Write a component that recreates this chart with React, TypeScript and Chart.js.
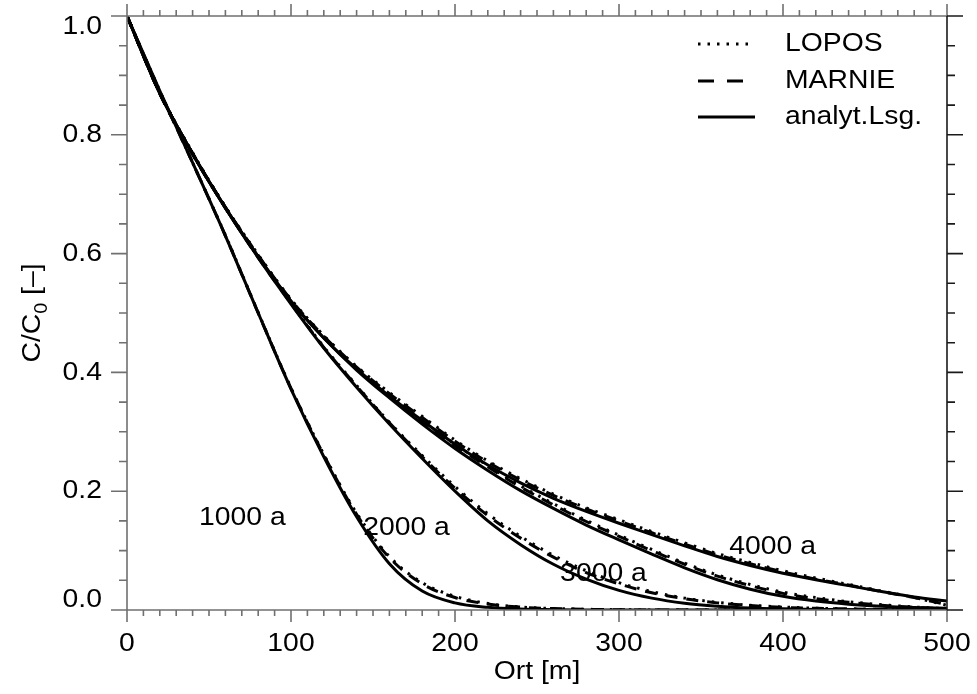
import React, { useEffect, useRef } from 'react';
import { Chart, registerables } from 'chart.js';

Chart.register(...registerables);

// ---------- data ----------
const xValues = [0, 20, 40, 60, 80, 100, 120, 140, 160, 180, 200, 220, 240, 260, 280, 300, 320, 340, 360, 380, 400, 420, 440, 460, 480, 500];

const analyt1000 = [1.000, 0.874, 0.753, 0.630, 0.500, 0.372, 0.258, 0.157, 0.078, 0.032, 0.012, 0.0045, 0.0015, 0.0005, 0, 0, 0, 0, 0, 0, 0, 0, 0, 0, 0, 0];
const lopos1000 = [1.000, 0.874, 0.753, 0.631, 0.501, 0.374, 0.262, 0.163, 0.090, 0.046, 0.023, 0.011, 0.005, 0.0025, 0.0012, 0.0005, 0, 0, 0, 0, 0, 0, 0, 0, 0, 0];
const marnie1000 = [1.000, 0.873, 0.753, 0.630, 0.500, 0.373, 0.261, 0.161, 0.088, 0.044, 0.021, 0.010, 0.0048, 0.0024, 0.0011, 0.0005, 0, 0, 0, 0, 0, 0, 0, 0, 0, 0];

const analyt2000 = [1.000, 0.870, 0.768, 0.677, 0.593, 0.515, 0.441, 0.375, 0.313, 0.255, 0.200, 0.150, 0.110, 0.077, 0.052, 0.033, 0.020, 0.0115, 0.0065, 0.0035, 0.002, 0.001, 0.0005, 0, 0, 0];
const lopos2000 = [1.000, 0.870, 0.768, 0.678, 0.594, 0.517, 0.443, 0.378, 0.316, 0.260, 0.208, 0.162, 0.124, 0.092, 0.066, 0.046, 0.031, 0.020, 0.013, 0.008, 0.005, 0.003, 0.002, 0.001, 0.0005, 0];
const marnie2000 = [1.000, 0.869, 0.767, 0.677, 0.593, 0.516, 0.442, 0.377, 0.315, 0.258, 0.205, 0.159, 0.121, 0.089, 0.063, 0.044, 0.029, 0.019, 0.012, 0.0075, 0.0045, 0.0028, 0.0018, 0.001, 0.0005, 0];

const analyt3000 = [1.000, 0.870, 0.768, 0.677, 0.595, 0.520, 0.458, 0.404, 0.357, 0.313, 0.272, 0.235, 0.201, 0.171, 0.143, 0.118, 0.094, 0.071, 0.051, 0.035, 0.023, 0.015, 0.0098, 0.0065, 0.0043, 0.003];
const lopos3000 = [1.000, 0.871, 0.769, 0.678, 0.597, 0.522, 0.461, 0.408, 0.362, 0.319, 0.279, 0.243, 0.209, 0.179, 0.151, 0.126, 0.102, 0.079, 0.059, 0.043, 0.030, 0.021, 0.014, 0.009, 0.005, 0.002];
const marnie3000 = [1.000, 0.870, 0.768, 0.678, 0.596, 0.521, 0.460, 0.406, 0.360, 0.317, 0.277, 0.241, 0.207, 0.177, 0.149, 0.124, 0.100, 0.077, 0.057, 0.041, 0.028, 0.019, 0.013, 0.008, 0.0045, 0.002];

const analyt4000 = [1.000, 0.870, 0.768, 0.677, 0.595, 0.520, 0.458, 0.406, 0.360, 0.319, 0.279, 0.244, 0.214, 0.188, 0.166, 0.146, 0.127, 0.108, 0.090, 0.075, 0.062, 0.051, 0.041, 0.031, 0.022, 0.015];
const lopos4000 = [1.000, 0.871, 0.770, 0.679, 0.598, 0.523, 0.462, 0.410, 0.366, 0.326, 0.286, 0.251, 0.221, 0.195, 0.172, 0.152, 0.132, 0.113, 0.095, 0.080, 0.066, 0.054, 0.043, 0.032, 0.021, 0.008];
const marnie4000 = [1.000, 0.870, 0.769, 0.678, 0.597, 0.522, 0.461, 0.409, 0.364, 0.324, 0.284, 0.249, 0.219, 0.193, 0.170, 0.150, 0.130, 0.111, 0.093, 0.078, 0.064, 0.052, 0.042, 0.031, 0.021, 0.009];

const xTicks = [0, 100, 200, 300, 400, 500];
const xTickLabels = ['0', '100', '200', '300', '400', '500'];
const yTicks = [0, 0.2, 0.4, 0.6, 0.8, 1.0];
const yTickLabels = ['0.0', '0.2', '0.4', '0.6', '0.8', '1.0'];
const xMinorStep = 10;
const yMinorStep = 0.05;

const timeLabels = ['1000 a', '2000 a', '3000 a', '4000 a'];
const timeLabelX = [43.9, 144, 264.1, 367.2];
const timeLabelY = [0.156, 0.138, 0.0614, 0.106];

const legendLabels = ['LOPOS', 'MARNIE', 'analyt.Lsg.'];
const xTitle = 'Ort [m]';

// ---------- helpers ----------
const FONT = '"Liberation Sans", Arial, Helvetica, sans-serif';
const SX = 1.09;
const LW = 3;

function text(ctx: CanvasRenderingContext2D, s: string, x: number, y: number, align: CanvasTextAlign, size = 26) {
  ctx.save();
  ctx.font = `${size}px ${FONT}`;
  ctx.fillStyle = '#000';
  ctx.textBaseline = 'middle';
  ctx.textAlign = align;
  ctx.translate(x, y);
  ctx.scale(SX, 1);
  ctx.fillText(s, 0, 0);
  ctx.restore();
}

const toPts = (ys: number[]) => ys.map((y, i) => ({ x: xValues[i], y }));

const solid = (label: string, ys: number[]) => ({
  label, data: toPts(ys), borderColor: '#000', borderWidth: LW, pointRadius: 0,
  cubicInterpolationMode: 'monotone' as const, fill: false,
});
const dotted = (label: string, ys: number[]) => ({
  label, data: toPts(ys), borderColor: '#000', borderWidth: LW, borderDash: [2.5, 7], pointRadius: 0,
  cubicInterpolationMode: 'monotone' as const, fill: false,
});
const dashed = (label: string, ys: number[]) => ({
  label, data: toPts(ys), borderColor: '#000', borderWidth: LW, borderDash: [12, 9], pointRadius: 0,
  cubicInterpolationMode: 'monotone' as const, fill: false,
});

const framePlugin = {
  id: 'frame',
  afterDraw(chart: any) {
    const ctx: CanvasRenderingContext2D = chart.ctx;
    const xs = chart.scales.x;
    const ys = chart.scales.y;
    const { left, right, top, bottom } = chart.chartArea;
    ctx.save();
    ctx.lineWidth = 1.6;
    // frame
    ctx.strokeStyle = '#707070';
    ctx.beginPath();
    ctx.moveTo(left, top); ctx.lineTo(left, bottom); ctx.lineTo(right, bottom);
    ctx.moveTo(left, top); ctx.lineTo(right, top);
    ctx.stroke();
    ctx.strokeStyle = '#1a1a1a';
    ctx.beginPath();
    ctx.moveTo(right, top); ctx.lineTo(right, bottom);
    ctx.stroke();

    // x ticks
    ctx.strokeStyle = '#707070';
    ctx.beginPath();
    for (let v = 0; v <= 500 + 1e-6; v += xMinorStep) {
      const px = xs.getPixelForValue(v);
      const major = Math.abs(v % 100) < 1e-6;
      const len = major ? 12 : 6;
      ctx.moveTo(px, bottom); ctx.lineTo(px, bottom + len);
      ctx.moveTo(px, top); ctx.lineTo(px, top - len);
    }
    ctx.stroke();
    // y ticks
    ctx.beginPath();
    for (let i = 0; i <= Math.round(1 / yMinorStep); i++) {
      const v = i * yMinorStep;
      const py = ys.getPixelForValue(v);
      const major = i % 4 === 0;
      const len = major ? 16 : 8;
      ctx.moveTo(left, py); ctx.lineTo(left - len, py);
    }
    ctx.stroke();
    ctx.strokeStyle = '#1a1a1a';
    ctx.beginPath();
    for (let i = 0; i <= Math.round(1 / yMinorStep); i++) {
      const v = i * yMinorStep;
      const py = ys.getPixelForValue(v);
      const major = i % 4 === 0;
      const len = major ? 16 : 8;
      ctx.moveTo(right, py); ctx.lineTo(right + len, py);
    }
    ctx.stroke();

    // tick labels
    xTicks.forEach((v, i) => text(ctx, xTickLabels[i], xs.getPixelForValue(v), bottom + 34, 'center'));
    yTicks.forEach((v, i) => {
      let py = ys.getPixelForValue(v);
      if (i === 0) py -= 10;
      if (i === yTicks.length - 1) py += 11;
      text(ctx, yTickLabels[i], left - 25, py, 'right');
    });

    // axis titles
    text(ctx, xTitle, (left + right) / 2, bottom + 62, 'center');
    ctx.save();
    ctx.translate(40, 313);
    ctx.rotate(-Math.PI / 2);
    ctx.scale(SX, 1);
    ctx.fillStyle = '#000';
    ctx.textBaseline = 'alphabetic';
    ctx.font = `26px ${FONT}`;
    const p1 = 'C/C', p3 = ' [\u2013]';
    const w1 = ctx.measureText(p1).width;
    const w3 = ctx.measureText(p3).width;
    ctx.font = `18px ${FONT}`;
    const w2 = ctx.measureText('0').width;
    const start = -(w1 + w2 + w3) / 2;
    ctx.font = `26px ${FONT}`;
    ctx.textAlign = 'left';
    ctx.fillText(p1, start, 0);
    ctx.font = `18px ${FONT}`;
    ctx.fillText('0', start + w1, 7);
    ctx.font = `26px ${FONT}`;
    ctx.fillText(p3, start + w1 + w2, 0);
    ctx.restore();

    // time labels
    timeLabels.forEach((s, i) => text(ctx, s, xs.getPixelForValue(timeLabelX[i]), ys.getPixelForValue(timeLabelY[i]), 'left'));

    // legend
    const lx0 = 698, lx1 = 755, tx = 785;
    const ly = [44, 81, 117];
    const dashes = [[2.5, 7], [16, 13], []];
    ctx.strokeStyle = '#000';
    ctx.lineWidth = LW;
    legendLabels.forEach((s, i) => {
      ctx.save();
      ctx.setLineDash(dashes[i]);
      ctx.beginPath();
      ctx.moveTo(lx0, ly[i]); ctx.lineTo(lx1, ly[i]);
      ctx.stroke();
      ctx.restore();
      text(ctx, s, tx, ly[i], 'left');
    });
    ctx.restore();
  },
};

export default function App() {
  const ref = useRef<HTMLCanvasElement>(null);
  useEffect(() => {
    if (!ref.current) return;
    const chart = new Chart(ref.current, {
      type: 'line',
      data: {
        datasets: [
          solid('analyt 1000', analyt1000), dotted('LOPOS 1000', lopos1000), dashed('MARNIE 1000', marnie1000),
          solid('analyt 2000', analyt2000), dotted('LOPOS 2000', lopos2000), dashed('MARNIE 2000', marnie2000),
          solid('analyt 3000', analyt3000), dotted('LOPOS 3000', lopos3000), dashed('MARNIE 3000', marnie3000),
          solid('analyt 4000', analyt4000), dotted('LOPOS 4000', lopos4000), dashed('MARNIE 4000', marnie4000),
        ] as any,
      },
      options: {
        animation: false,
        responsive: false,
        layout: { padding: { left: 127, top: 16, right: 30, bottom: 84 } },
        plugins: { legend: { display: false }, tooltip: { enabled: false } },
        scales: {
          x: { type: 'linear', min: 0, max: 500, display: false },
          y: { type: 'linear', min: 0, max: 1, display: false },
        },
      },
      plugins: [framePlugin],
    });
    return () => chart.destroy();
  }, []);
  return (
    <canvas ref={ref} width={977} height={694}
      style={{ position: 'absolute', left: 0, top: 0, width: 977, height: 694, background: '#fff' }} />
  );
}
